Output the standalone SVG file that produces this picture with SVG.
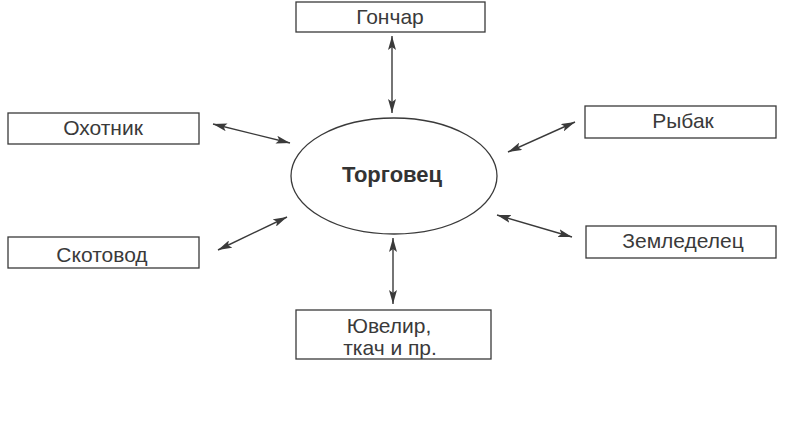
<svg xmlns="http://www.w3.org/2000/svg" width="785" height="432" viewBox="0 0 785 432">
  <defs>
    <marker id="ah" viewBox="0 0 14 8" refX="14" refY="4" markerWidth="14" markerHeight="8" markerUnits="userSpaceOnUse" orient="auto-start-reverse">
      <path d="M0,0 L14,4 L0,8 L3,4 Z" fill="#3a3a3a"/>
    </marker>
  </defs>
  <style>
    .box { fill: #ffffff; stroke: #3a3a3a; stroke-width: 1.3; }
    .lbl { font-family: "Liberation Sans", Arial, sans-serif; font-size: 21px; fill: #3a3a3a; text-anchor: middle; }
    .hub { font-family: "Liberation Sans", Arial, sans-serif; font-size: 22px; font-weight: bold; fill: #333333; text-anchor: middle; }
    .conn { stroke: #3a3a3a; stroke-width: 1.4; fill: none; marker-start: url(#ah); marker-end: url(#ah); }
  </style>
  <rect width="785" height="432" fill="#ffffff"/>

  <g id="connectors">
    <line class="conn" x1="392" y1="36" x2="392" y2="113"/>
    <line class="conn" x1="213" y1="124" x2="290" y2="143"/>
    <line class="conn" x1="508" y1="152" x2="575" y2="122"/>
    <line class="conn" x1="497" y1="215" x2="572" y2="237"/>
    <line class="conn" x1="287" y1="217" x2="218" y2="250"/>
    <line class="conn" x1="393" y1="238" x2="393" y2="304"/>
  </g>

  <g id="node-trader">
    <ellipse cx="394" cy="176" rx="103" ry="58" fill="#ffffff" stroke="#3a3a3a" stroke-width="1.3"/>
    <text class="hub" x="392" y="182">Торговец</text>
  </g>

  <g id="node-potter">
    <rect class="box" x="296" y="2" width="189" height="30"/>
    <text class="lbl" x="390" y="24">Гончар</text>
  </g>

  <g id="node-hunter">
    <rect class="box" x="8" y="113" width="191" height="31"/>
    <text class="lbl" x="103" y="135">Охотник</text>
  </g>

  <g id="node-fisher">
    <rect class="box" x="585" y="106" width="191" height="32"/>
    <text class="lbl" x="683" y="128">Рыбак</text>
  </g>

  <g id="node-farmer">
    <rect class="box" x="586" y="226" width="190" height="32"/>
    <text class="lbl" x="683" y="248">Земледелец</text>
  </g>

  <g id="node-herder">
    <rect class="box" x="8" y="237" width="191" height="31"/>
    <text class="lbl" x="102" y="262">Скотовод</text>
  </g>

  <g id="node-craftsman">
    <rect class="box" x="296" y="310" width="195" height="49"/>
    <text class="lbl" x="389" y="333">Ювелир,</text>
    <text class="lbl" x="390" y="355">ткач и пр.</text>
  </g>
</svg>
